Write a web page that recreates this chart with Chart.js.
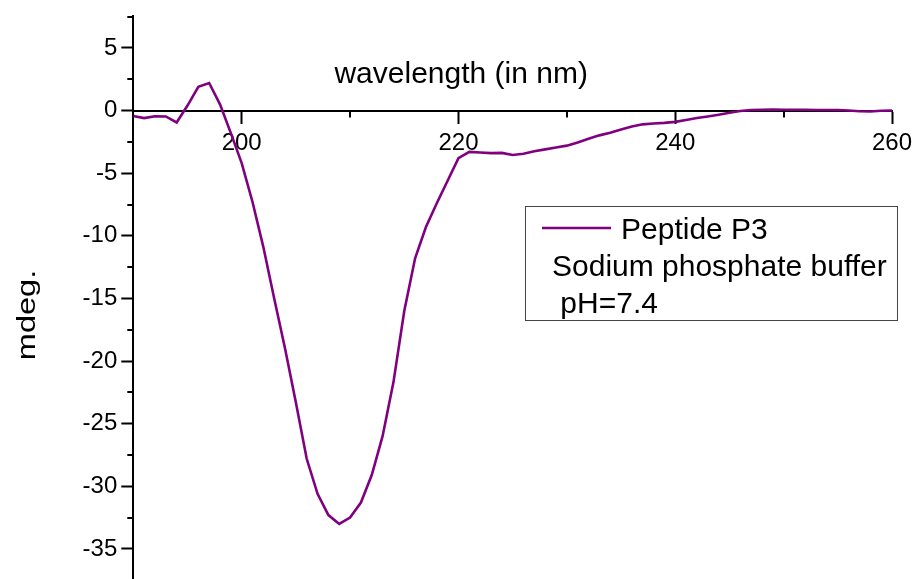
<!DOCTYPE html>
<html>
<head>
<meta charset="utf-8">
<script src="https://cdn.jsdelivr.net/npm/chart.js@4"></script>
<style>
  html, body { margin: 0; padding: 0; background: #fff; overflow: hidden; }
  #c { display: block; }
</style>
</head>
<body>
<canvas id="c" width="915" height="579"></canvas>
<script>
// Wavelength (nm) and CD signal (mdeg)
const wavelengths = [190,191,192,193,194,195,196,197,198,199,
  200,201,202,203,204,205,206,207,208,209,
  210,211,212,213,214,215,216,217,218,219,
  220,221,222,223,224,225,226,227,228,229,
  230,231,232,233,234,235,236,237,238,239,
  240,241,242,243,244,245,246,247,248,249,
  250,251,252,253,254,255,256,257,258,259,260];
const mdeg = [-0.43,-0.6,-0.45,-0.47,-0.95,0.4,1.9,2.2,0.5,-1.8,
  -4.2,-7.3,-10.9,-15.0,-19.0,-23.3,-27.8,-30.6,-32.3,-33.0,
  -32.5,-31.3,-29.1,-26.0,-21.7,-16.0,-11.8,-9.3,-7.4,-5.6,
  -3.8,-3.3,-3.35,-3.4,-3.38,-3.55,-3.45,-3.25,-3.1,-2.95,
  -2.8,-2.55,-2.25,-1.98,-1.78,-1.52,-1.27,-1.1,-1.03,-0.98,
  -0.9,-0.75,-0.6,-0.47,-0.33,-0.18,-0.04,0.04,0.07,0.08,
  0.06,0.07,0.06,0.05,0.04,0.04,0.0,-0.05,-0.08,-0.02,0.0];
const xTickValues = [200,220,240,260];
const xMinorTicks = [210,230,250];
const yTickValues = [5,0,-5,-10,-15,-20,-25,-30,-35];
const yMinorTicks = [7.5,2.5,-2.5,-7.5,-12.5,-17.5,-22.5,-27.5,-32.5];
const seriesLabel = 'Peptide P3';
const legendExtraLines = ['Sodium phosphate buffer', ' pH=7.4'];
const xTitle = 'wavelength (in nm)';
const yTitle = 'mdeg.';

const FONT = '"Liberation Sans", Arial, sans-serif';
const LINE_COLOR = '#800080';

const decorPlugin = {
  id: 'decor',
  afterDraw(chart) {
    const ctx = chart.ctx;
    const xs = chart.scales.x, ys = chart.scales.y;
    const x0 = xs.getPixelForValue(190);
    const yZero = ys.getPixelForValue(0);
    ctx.save();
    ctx.strokeStyle = '#000';
    ctx.lineWidth = 2;
    // minor ticks x
    xMinorTicks.forEach(v => {
      const px = Math.round(xs.getPixelForValue(v));
      ctx.beginPath(); ctx.moveTo(px, yZero); ctx.lineTo(px, yZero + 7); ctx.stroke();
    });
    // minor ticks y
    yMinorTicks.forEach(v => {
      const py = Math.round(ys.getPixelForValue(v));
      ctx.beginPath(); ctx.moveTo(x0, py); ctx.lineTo(x0 - 6, py); ctx.stroke();
    });
    // x title above the axis
    ctx.fillStyle = '#000';
    ctx.font = '30px ' + FONT;
    ctx.textAlign = 'center';
    ctx.textBaseline = 'alphabetic';
    ctx.fillText(xTitle, xs.getPixelForValue(220.25), yZero - 28);
    // y title rotated (slightly stretched along its length like the original)
    ctx.save();
    ctx.font = '25px ' + FONT;
    ctx.translate(35, 315);
    ctx.rotate(-Math.PI / 2);
    ctx.scale(1.3, 1);
    ctx.fillText(yTitle, 0, 0);
    ctx.restore();
    // legend box
    ctx.lineWidth = 1;
    ctx.strokeStyle = '#444';
    ctx.strokeRect(525.5, 206.5, 372, 114);
    ctx.strokeStyle = LINE_COLOR;
    ctx.lineWidth = 2.5;
    ctx.beginPath(); ctx.moveTo(542, 228); ctx.lineTo(611, 228); ctx.stroke();
    ctx.textAlign = 'left';
    ctx.fillStyle = '#000';
    ctx.fillText(seriesLabel, 621, 239);
    ctx.fillText(legendExtraLines[0], 552, 276);
    ctx.fillText(legendExtraLines[1], 552, 313);
    ctx.restore();
  }
};

new Chart(document.getElementById('c'), {
  type: 'line',
  data: {
    datasets: [{
      label: seriesLabel,
      data: wavelengths.map((w, i) => ({ x: w, y: mdeg[i] })),
      borderColor: LINE_COLOR,
      borderWidth: 2.6,
      pointRadius: 0,
      tension: 0,
      fill: false
    }]
  },
  options: {
    responsive: false,
    animation: false,
    layout: { padding: { left: 0, right: 23, top: 16, bottom: 0 } },
    plugins: { legend: { display: false }, tooltip: { enabled: false } },
    scales: {
      x: {
        type: 'linear',
        min: 190, max: 260,
        position: { y: 0 },
        afterBuildTicks: s => { s.ticks = xTickValues.map(v => ({ value: v })); },
        afterFit: s => { s.paddingLeft = 0; s.paddingRight = 0; },
        grid: { drawOnChartArea: false, tickLength: 12, tickWidth: 2, tickColor: '#000' },
        border: { display: true, color: '#000', width: 2 },
        ticks: { color: '#000', font: { size: 24, family: FONT }, padding: 6, maxRotation: 0, autoSkip: false }
      },
      y: {
        type: 'linear',
        min: -37.4, max: 7.55,
        position: 'left',
        afterBuildTicks: s => { s.ticks = yTickValues.map(v => ({ value: v })); },
        afterFit: s => { s.width = 133.3; s.paddingTop = 0; s.paddingBottom = 0; },
        grid: { drawOnChartArea: false, tickLength: 12, tickWidth: 2, tickColor: '#000' },
        border: { display: true, color: '#000', width: 2 },
        ticks: { color: '#000', font: { size: 24, family: FONT }, padding: 4, autoSkip: false }
      }
    }
  },
  plugins: [decorPlugin]
});
</script>
</body>
</html>
